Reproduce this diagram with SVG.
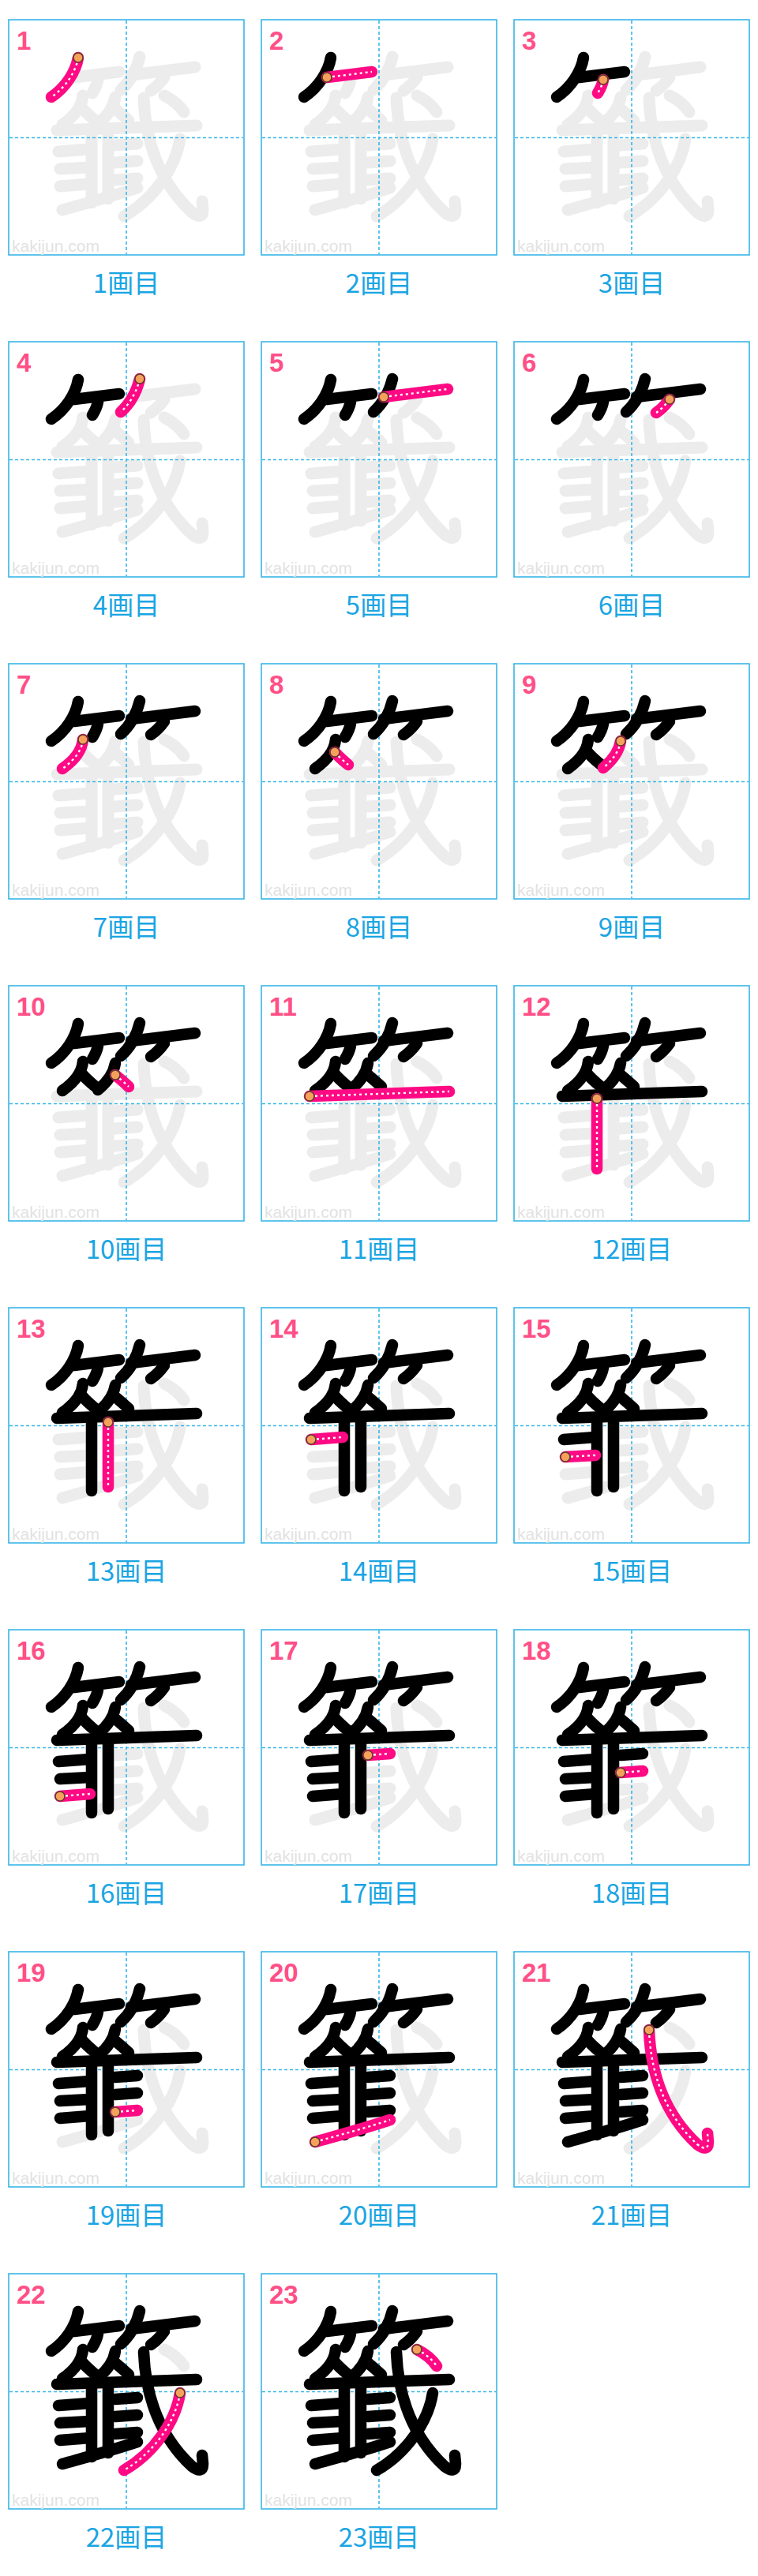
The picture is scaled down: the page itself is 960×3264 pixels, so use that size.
<svg xmlns="http://www.w3.org/2000/svg" xmlns:xlink="http://www.w3.org/1999/xlink" width="960" height="3264" viewBox="0 0 960 3264">
<style>
.sp{fill:none}
.g{stroke:#ececec;stroke-width:15;stroke-linecap:round;stroke-linejoin:round}
.k{stroke:#000;stroke-width:14.5;stroke-linecap:round;stroke-linejoin:round}
.p{stroke:#ff0a84;stroke-width:14.5;stroke-linecap:round;stroke-linejoin:round}
.d{stroke:#fff;stroke-width:2.4;stroke-dasharray:3 4;stroke-dashoffset:-7;stroke-linecap:butt}
.st{fill:#f6a15b;stroke:#5b3b28;stroke-width:1.5}
.box{fill:#fff;stroke:#38b6e8;stroke-width:1.6}
.gd{stroke:#38b6e8;stroke-width:1.6;stroke-dasharray:4 3}
.num{font-family:"Liberation Sans","Noto Sans",sans-serif;font-size:33px;font-weight:bold;fill:#ff4f87}
.wm{font-family:"Liberation Sans","Noto Sans",sans-serif;font-size:21px;fill:#e2e2e2}
.lbl{font-family:"Noto Sans CJK JP","Noto Sans",sans-serif;font-size:33px;fill:#1aa5e3;text-anchor:middle}
</style>
<defs>
<path id="s1" class="sp" d="M88,48 C85,66 72,86 54,98"/>
<path id="s2" class="sp" d="M83,73 L140,66"/>
<path id="s3" class="sp" d="M113,76 C112,82 109,88 106,93"/>
<path id="s4" class="sp" d="M166,47 C162,64 153,79 142,89"/>
<path id="s5" class="sp" d="M155,70 L236,60"/>
<path id="s6" class="sp" d="M197,73 C192,80 186,86 180,90"/>
<path id="s7" class="sp" d="M94,96 C93,108 85,121 68,133"/>
<path id="s8" class="sp" d="M93,112 C98,118 104,123 110,128"/>
<path id="s9" class="sp" d="M135,98 C133,111 125,122 113,132"/>
<path id="s10" class="sp" d="M135,113 C141,118 147,123 152,128"/>
<path id="s11" class="sp" d="M61,140 L238,134"/>
<path id="s12" class="sp" d="M105,143 L105,232"/>
<path id="s13" class="sp" d="M126,145 L126,227"/>
<path id="s14" class="sp" d="M63,167 L103,164"/>
<path id="s15" class="sp" d="M65,189 L103,187"/>
<path id="s16" class="sp" d="M65,211 L103,208"/>
<path id="s17" class="sp" d="M135,159 L163,157"/>
<path id="s18" class="sp" d="M135,181 L163,179"/>
<path id="s19" class="sp" d="M135,203 L163,201"/>
<path id="s20" class="sp" d="M68,241 C100,232 130,224 163,213"/>
<path id="s21" class="sp" d="M171,99 C173,152 190,205 232,244 C241,251 246,250 246,241 L245,230"/>
<path id="s22" class="sp" d="M217,151 C212,185 186,226 146,249"/>
<path id="s23" class="sp" d="M197,96 C207,101 216,108 222,117"/>
<g id="base">
<rect class="box" x="0" y="0" width="298" height="298"/>
<g class="g">
<use href="#s1"/><use href="#s2"/><use href="#s3"/><use href="#s4"/><use href="#s5"/><use href="#s6"/><use href="#s7"/><use href="#s8"/><use href="#s9"/><use href="#s10"/><use href="#s11"/><use href="#s12"/><use href="#s13"/><use href="#s14"/><use href="#s15"/><use href="#s16"/><use href="#s17"/><use href="#s18"/><use href="#s19"/><use href="#s20"/><use href="#s21"/><use href="#s22"/><use href="#s23"/>
</g>
<line class="gd" x1="149" y1="1" x2="149" y2="297"/>
<line class="gd" x1="1" y1="149.5" x2="297" y2="149.5"/>
<text class="wm" x="4" y="294">kakijun.com</text>
</g>
</defs>

<g id="step-1" transform="translate(11,25)"><use href="#base"/><text class="num" x="10" y="38">1</text>
<use href="#s1" class="p"/><use href="#s1" class="d"/><circle class="st" cx="88" cy="48" r="6"/><text class="lbl" x="149" y="346">1画目</text></g>

<g id="step-2" transform="translate(331,25)"><use href="#base"/><text class="num" x="10" y="38">2</text>
<g class="k"><use href="#s1"/></g>
<use href="#s2" class="p"/><use href="#s2" class="d"/><circle class="st" cx="83" cy="73" r="6"/><text class="lbl" x="149" y="346">2画目</text></g>

<g id="step-3" transform="translate(651,25)"><use href="#base"/><text class="num" x="10" y="38">3</text>
<g class="k"><use href="#s1"/><use href="#s2"/></g>
<use href="#s3" class="p"/><use href="#s3" class="d"/><circle class="st" cx="113" cy="76" r="6"/><text class="lbl" x="149" y="346">3画目</text></g>

<g id="step-4" transform="translate(11,433)"><use href="#base"/><text class="num" x="10" y="38">4</text>
<g class="k"><use href="#s1"/><use href="#s2"/><use href="#s3"/></g>
<use href="#s4" class="p"/><use href="#s4" class="d"/><circle class="st" cx="166" cy="47" r="6"/><text class="lbl" x="149" y="346">4画目</text></g>

<g id="step-5" transform="translate(331,433)"><use href="#base"/><text class="num" x="10" y="38">5</text>
<g class="k"><use href="#s1"/><use href="#s2"/><use href="#s3"/><use href="#s4"/></g>
<use href="#s5" class="p"/><use href="#s5" class="d"/><circle class="st" cx="155" cy="70" r="6"/><text class="lbl" x="149" y="346">5画目</text></g>

<g id="step-6" transform="translate(651,433)"><use href="#base"/><text class="num" x="10" y="38">6</text>
<g class="k"><use href="#s1"/><use href="#s2"/><use href="#s3"/><use href="#s4"/><use href="#s5"/></g>
<use href="#s6" class="p"/><use href="#s6" class="d"/><circle class="st" cx="197" cy="73" r="6"/><text class="lbl" x="149" y="346">6画目</text></g>

<g id="step-7" transform="translate(11,841)"><use href="#base"/><text class="num" x="10" y="38">7</text>
<g class="k"><use href="#s1"/><use href="#s2"/><use href="#s3"/><use href="#s4"/><use href="#s5"/><use href="#s6"/></g>
<use href="#s7" class="p"/><use href="#s7" class="d"/><circle class="st" cx="94" cy="96" r="6"/><text class="lbl" x="149" y="346">7画目</text></g>

<g id="step-8" transform="translate(331,841)"><use href="#base"/><text class="num" x="10" y="38">8</text>
<g class="k"><use href="#s1"/><use href="#s2"/><use href="#s3"/><use href="#s4"/><use href="#s5"/><use href="#s6"/><use href="#s7"/></g>
<use href="#s8" class="p"/><use href="#s8" class="d"/><circle class="st" cx="93" cy="112" r="6"/><text class="lbl" x="149" y="346">8画目</text></g>

<g id="step-9" transform="translate(651,841)"><use href="#base"/><text class="num" x="10" y="38">9</text>
<g class="k"><use href="#s1"/><use href="#s2"/><use href="#s3"/><use href="#s4"/><use href="#s5"/><use href="#s6"/><use href="#s7"/><use href="#s8"/></g>
<use href="#s9" class="p"/><use href="#s9" class="d"/><circle class="st" cx="135" cy="98" r="6"/><text class="lbl" x="149" y="346">9画目</text></g>

<g id="step-10" transform="translate(11,1249)"><use href="#base"/><text class="num" x="10" y="38">10</text>
<g class="k"><use href="#s1"/><use href="#s2"/><use href="#s3"/><use href="#s4"/><use href="#s5"/><use href="#s6"/><use href="#s7"/><use href="#s8"/><use href="#s9"/></g>
<use href="#s10" class="p"/><use href="#s10" class="d"/><circle class="st" cx="135" cy="113" r="6"/><text class="lbl" x="149" y="346">10画目</text></g>

<g id="step-11" transform="translate(331,1249)"><use href="#base"/><text class="num" x="10" y="38">11</text>
<g class="k"><use href="#s1"/><use href="#s2"/><use href="#s3"/><use href="#s4"/><use href="#s5"/><use href="#s6"/><use href="#s7"/><use href="#s8"/><use href="#s9"/><use href="#s10"/></g>
<use href="#s11" class="p"/><use href="#s11" class="d"/><circle class="st" cx="61" cy="140" r="6"/><text class="lbl" x="149" y="346">11画目</text></g>

<g id="step-12" transform="translate(651,1249)"><use href="#base"/><text class="num" x="10" y="38">12</text>
<g class="k"><use href="#s1"/><use href="#s2"/><use href="#s3"/><use href="#s4"/><use href="#s5"/><use href="#s6"/><use href="#s7"/><use href="#s8"/><use href="#s9"/><use href="#s10"/><use href="#s11"/></g>
<use href="#s12" class="p"/><use href="#s12" class="d"/><circle class="st" cx="105" cy="143" r="6"/><text class="lbl" x="149" y="346">12画目</text></g>

<g id="step-13" transform="translate(11,1657)"><use href="#base"/><text class="num" x="10" y="38">13</text>
<g class="k"><use href="#s1"/><use href="#s2"/><use href="#s3"/><use href="#s4"/><use href="#s5"/><use href="#s6"/><use href="#s7"/><use href="#s8"/><use href="#s9"/><use href="#s10"/><use href="#s11"/><use href="#s12"/></g>
<use href="#s13" class="p"/><use href="#s13" class="d"/><circle class="st" cx="126" cy="145" r="6"/><text class="lbl" x="149" y="346">13画目</text></g>

<g id="step-14" transform="translate(331,1657)"><use href="#base"/><text class="num" x="10" y="38">14</text>
<g class="k"><use href="#s1"/><use href="#s2"/><use href="#s3"/><use href="#s4"/><use href="#s5"/><use href="#s6"/><use href="#s7"/><use href="#s8"/><use href="#s9"/><use href="#s10"/><use href="#s11"/><use href="#s12"/><use href="#s13"/></g>
<use href="#s14" class="p"/><use href="#s14" class="d"/><circle class="st" cx="63" cy="167" r="6"/><text class="lbl" x="149" y="346">14画目</text></g>

<g id="step-15" transform="translate(651,1657)"><use href="#base"/><text class="num" x="10" y="38">15</text>
<g class="k"><use href="#s1"/><use href="#s2"/><use href="#s3"/><use href="#s4"/><use href="#s5"/><use href="#s6"/><use href="#s7"/><use href="#s8"/><use href="#s9"/><use href="#s10"/><use href="#s11"/><use href="#s12"/><use href="#s13"/><use href="#s14"/></g>
<use href="#s15" class="p"/><use href="#s15" class="d"/><circle class="st" cx="65" cy="189" r="6"/><text class="lbl" x="149" y="346">15画目</text></g>

<g id="step-16" transform="translate(11,2065)"><use href="#base"/><text class="num" x="10" y="38">16</text>
<g class="k"><use href="#s1"/><use href="#s2"/><use href="#s3"/><use href="#s4"/><use href="#s5"/><use href="#s6"/><use href="#s7"/><use href="#s8"/><use href="#s9"/><use href="#s10"/><use href="#s11"/><use href="#s12"/><use href="#s13"/><use href="#s14"/><use href="#s15"/></g>
<use href="#s16" class="p"/><use href="#s16" class="d"/><circle class="st" cx="65" cy="211" r="6"/><text class="lbl" x="149" y="346">16画目</text></g>

<g id="step-17" transform="translate(331,2065)"><use href="#base"/><text class="num" x="10" y="38">17</text>
<g class="k"><use href="#s1"/><use href="#s2"/><use href="#s3"/><use href="#s4"/><use href="#s5"/><use href="#s6"/><use href="#s7"/><use href="#s8"/><use href="#s9"/><use href="#s10"/><use href="#s11"/><use href="#s12"/><use href="#s13"/><use href="#s14"/><use href="#s15"/><use href="#s16"/></g>
<use href="#s17" class="p"/><use href="#s17" class="d"/><circle class="st" cx="135" cy="159" r="6"/><text class="lbl" x="149" y="346">17画目</text></g>

<g id="step-18" transform="translate(651,2065)"><use href="#base"/><text class="num" x="10" y="38">18</text>
<g class="k"><use href="#s1"/><use href="#s2"/><use href="#s3"/><use href="#s4"/><use href="#s5"/><use href="#s6"/><use href="#s7"/><use href="#s8"/><use href="#s9"/><use href="#s10"/><use href="#s11"/><use href="#s12"/><use href="#s13"/><use href="#s14"/><use href="#s15"/><use href="#s16"/><use href="#s17"/></g>
<use href="#s18" class="p"/><use href="#s18" class="d"/><circle class="st" cx="135" cy="181" r="6"/><text class="lbl" x="149" y="346">18画目</text></g>

<g id="step-19" transform="translate(11,2473)"><use href="#base"/><text class="num" x="10" y="38">19</text>
<g class="k"><use href="#s1"/><use href="#s2"/><use href="#s3"/><use href="#s4"/><use href="#s5"/><use href="#s6"/><use href="#s7"/><use href="#s8"/><use href="#s9"/><use href="#s10"/><use href="#s11"/><use href="#s12"/><use href="#s13"/><use href="#s14"/><use href="#s15"/><use href="#s16"/><use href="#s17"/><use href="#s18"/></g>
<use href="#s19" class="p"/><use href="#s19" class="d"/><circle class="st" cx="135" cy="203" r="6"/><text class="lbl" x="149" y="346">19画目</text></g>

<g id="step-20" transform="translate(331,2473)"><use href="#base"/><text class="num" x="10" y="38">20</text>
<g class="k"><use href="#s1"/><use href="#s2"/><use href="#s3"/><use href="#s4"/><use href="#s5"/><use href="#s6"/><use href="#s7"/><use href="#s8"/><use href="#s9"/><use href="#s10"/><use href="#s11"/><use href="#s12"/><use href="#s13"/><use href="#s14"/><use href="#s15"/><use href="#s16"/><use href="#s17"/><use href="#s18"/><use href="#s19"/></g>
<use href="#s20" class="p"/><use href="#s20" class="d"/><circle class="st" cx="68" cy="241" r="6"/><text class="lbl" x="149" y="346">20画目</text></g>

<g id="step-21" transform="translate(651,2473)"><use href="#base"/><text class="num" x="10" y="38">21</text>
<g class="k"><use href="#s1"/><use href="#s2"/><use href="#s3"/><use href="#s4"/><use href="#s5"/><use href="#s6"/><use href="#s7"/><use href="#s8"/><use href="#s9"/><use href="#s10"/><use href="#s11"/><use href="#s12"/><use href="#s13"/><use href="#s14"/><use href="#s15"/><use href="#s16"/><use href="#s17"/><use href="#s18"/><use href="#s19"/><use href="#s20"/></g>
<use href="#s21" class="p"/><use href="#s21" class="d"/><circle class="st" cx="171" cy="99" r="6"/><text class="lbl" x="149" y="346">21画目</text></g>

<g id="step-22" transform="translate(11,2881)"><use href="#base"/><text class="num" x="10" y="38">22</text>
<g class="k"><use href="#s1"/><use href="#s2"/><use href="#s3"/><use href="#s4"/><use href="#s5"/><use href="#s6"/><use href="#s7"/><use href="#s8"/><use href="#s9"/><use href="#s10"/><use href="#s11"/><use href="#s12"/><use href="#s13"/><use href="#s14"/><use href="#s15"/><use href="#s16"/><use href="#s17"/><use href="#s18"/><use href="#s19"/><use href="#s20"/><use href="#s21"/></g>
<use href="#s22" class="p"/><use href="#s22" class="d"/><circle class="st" cx="217" cy="151" r="6"/><text class="lbl" x="149" y="346">22画目</text></g>

<g id="step-23" transform="translate(331,2881)"><use href="#base"/><text class="num" x="10" y="38">23</text>
<g class="k"><use href="#s1"/><use href="#s2"/><use href="#s3"/><use href="#s4"/><use href="#s5"/><use href="#s6"/><use href="#s7"/><use href="#s8"/><use href="#s9"/><use href="#s10"/><use href="#s11"/><use href="#s12"/><use href="#s13"/><use href="#s14"/><use href="#s15"/><use href="#s16"/><use href="#s17"/><use href="#s18"/><use href="#s19"/><use href="#s20"/><use href="#s21"/><use href="#s22"/></g>
<use href="#s23" class="p"/><use href="#s23" class="d"/><circle class="st" cx="197" cy="96" r="6"/><text class="lbl" x="149" y="346">23画目</text></g>
</svg>
